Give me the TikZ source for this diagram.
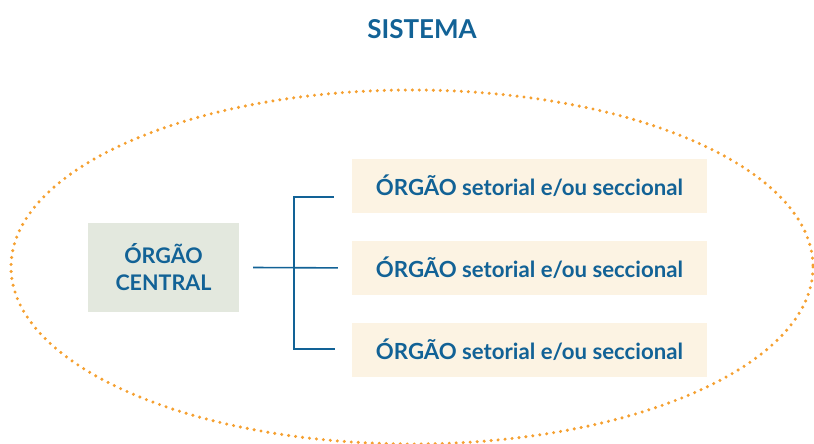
\documentclass[tikz,border=0pt]{standalone}
\usepackage{fontspec}
\setmainfont{Lato}
\usetikzlibrary{positioning}
\definecolor{azul}{RGB}{18,98,150}
\definecolor{laranja}{RGB}{245,160,48}
\definecolor{bege}{RGB}{252,243,227}
\definecolor{cinza}{RGB}{227,232,222}
\begin{document}
\begin{tikzpicture}[x=1pt,y=-1pt,
    titulo/.style={text=azul,font=\bfseries\fontsize{26}{30}\selectfont},
    orgao/.style={fill=bege,text=azul,font=\bfseries\fontsize{22.2}{24}\selectfont,
      minimum width=355pt,minimum height=54pt,inner sep=0pt},
    central/.style={fill=cinza,text=azul,align=center,
      font=\bfseries\fontsize{21.5}{27}\selectfont,
      minimum width=151pt,minimum height=89pt,inner sep=0pt},
    ramo/.style={draw=azul,line width=1.6pt},
    pontos/.style={draw=laranja,line width=3.4pt,line cap=round,
      dash pattern=on 0pt off 7pt}]
  \useasboundingbox (0,0) rectangle (814,444);
  \clip (0,0) rectangle (814,444);
  \draw[pontos] (412,267) ellipse [x radius=401, y radius=177];
  \node[titulo] (sistema) at (422,29) {SISTEMA};
  \node[central] (central) at (163.5,267.5) {ÓRGÃO\\CENTRAL};
  \node[orgao] (setorial1) at (529.5,186) {ÓRGÃO setorial e/ou seccional};
  \node[orgao,below=27.5pt of setorial1] (setorial2) {ÓRGÃO setorial e/ou seccional};
  \node[orgao,below=27.5pt of setorial2] (setorial3) {ÓRGÃO setorial e/ou seccional};
  % chave
  \coordinate (topo) at (294,197);
  \coordinate (base) at (294,349);
  \draw[ramo] ([xshift=14pt]central.east) -- ([xshift=-14pt]setorial2.west);
  \draw[ramo] ([xshift=-18pt]setorial1.west |- topo) -- (topo) -- (base)
    -- ([xshift=-17pt]setorial3.west |- base);
\end{tikzpicture}
\end{document}
